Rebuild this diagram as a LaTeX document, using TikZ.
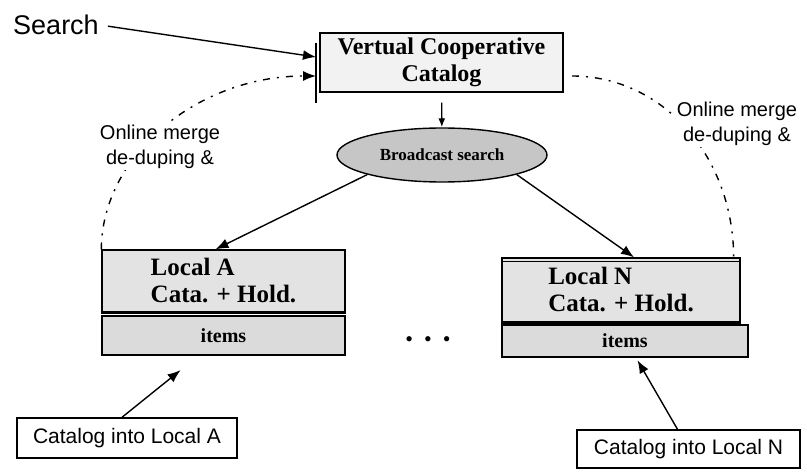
\documentclass[tikz,border=0pt]{standalone}
\usepackage{fontspec}
\setmainfont{Liberation Serif}
\setsansfont{Liberation Sans}
\usetikzlibrary{shapes.geometric,arrows.meta}
\begin{document}
\begin{tikzpicture}
			[x=1pt,y=-1pt,
			box/.style={rectangle,draw,line width=1.4pt,inner sep=0pt,font=\fontsize{24}{27}\selectfont\bfseries},
			localbox/.style={box,fill=gray!22,align=left,font=\fontsize{25}{27}\selectfont\bfseries},
			itembox/.style={box,fill=gray!28,font=\fontsize{20}{22}\selectfont\bfseries},
			catbox/.style={rectangle,draw,line width=1.4pt,inner sep=0pt,font=\sffamily\fontsize{21}{24}\selectfont},
			mergetext/.style={fill=white,inner sep=1pt,align=center,font=\sffamily\fontsize{20}{25}\selectfont},
			mergeline/.style={line width=1.4pt,dash pattern=on 7pt off 7pt on 2pt off 7pt},
			>={Latex[length=13pt,width=10pt]}]
			\useasboundingbox(0,0)rectangle(807,473);
			\node[name=search,inner sep=1pt,font=\sffamily\fontsize{27}{30}\selectfont]at(56,25){Search};
			\node[box,name=vcc,fill=gray!10,align=center,minimum width=243pt,minimum height=59pt]at(441.5,62.5){Vertual Cooperative\\Catalog};
			\node[ellipse,draw,name=bc,line width=1.4pt,fill=gray!45,inner sep=0pt,minimum width=210pt,minimum height=54pt,font=\fontsize{17}{19}\selectfont\bfseries]at(442,155){Broadcast search};
			\node[localbox,name=locA,minimum width=243pt,minimum height=62pt]at(223.5,281){Local A\\Cata. + Hold.};
			\node[itembox,name=itmA,minimum width=243pt,minimum height=39pt]at(223.5,335.5){items};
			\node[localbox,name=locN,minimum width=238pt,minimum height=64pt]at(621,290){Local N\\Cata. + Hold.};
			\node[itembox,name=itmN,minimum width=246pt,minimum height=32pt]at(625,341){items};
			\node[catbox,name=catA,minimum width=220pt,minimum height=40pt]at(127,438){Catalog into Local A};
			\node[catbox,name=catN,minimum width=223pt,minimum height=38pt]at(688.5,449){Catalog into Local N};
			\node[name=dots,inner sep=0pt,font=\fontsize{22}{24}\selectfont]at(428,342){\textbullet\hspace{11pt}\textbullet\hspace{11pt}\textbullet};
			\coordinate(inS)at(316,57);
			\coordinate(inM)at(316,76);
			\coordinate(outM)at(572,76);
			\draw[line width=1.4pt](316,43)--(316,103);
			\draw[line width=2.8pt](locA.south west)--(locA.south east);
			\draw[line width=2.8pt](locN.south west)--(locN.south east);
			\draw[line width=1.4pt]([yshift=-4pt]locN.north west)--([yshift=-4pt]locN.north east);
			\draw[->,line width=1.4pt,shorten <=8pt](search.east)--(inS);
			\draw[-{Latex[length=9pt,width=7pt]},line width=1.4pt,shorten <=10pt](vcc)--(bc);
			\draw[->,line width=1.4pt](bc.south west)--([xshift=-8pt]locA.north);
			\draw[->,line width=1.4pt](bc.south east)--([xshift=13pt]locN.north);
			\draw[->,line width=1.4pt,shorten >=23pt]([xshift=-5pt]catA.north)--([xshift=-25pt]itmA.south);
			\draw[->,line width=1.4pt,shorten >=3pt]([xshift=-11pt]catN.north)--([xshift=11pt]itmN.south);
			\draw[mergeline,->](locA.north west)..controls(102,154)and(199,76)..(inM);
			\draw[mergeline](outM)..controls(661,76)and(733,154)..([xshift=-7pt]locN.north east);
			\node[mergetext,name=mergeL]at(160,147){Online merge\\de-duping \&};
			\node[mergetext,name=mergeR]at(737,124){Online merge\\de-duping \&};
		\end{tikzpicture}
\end{document}
